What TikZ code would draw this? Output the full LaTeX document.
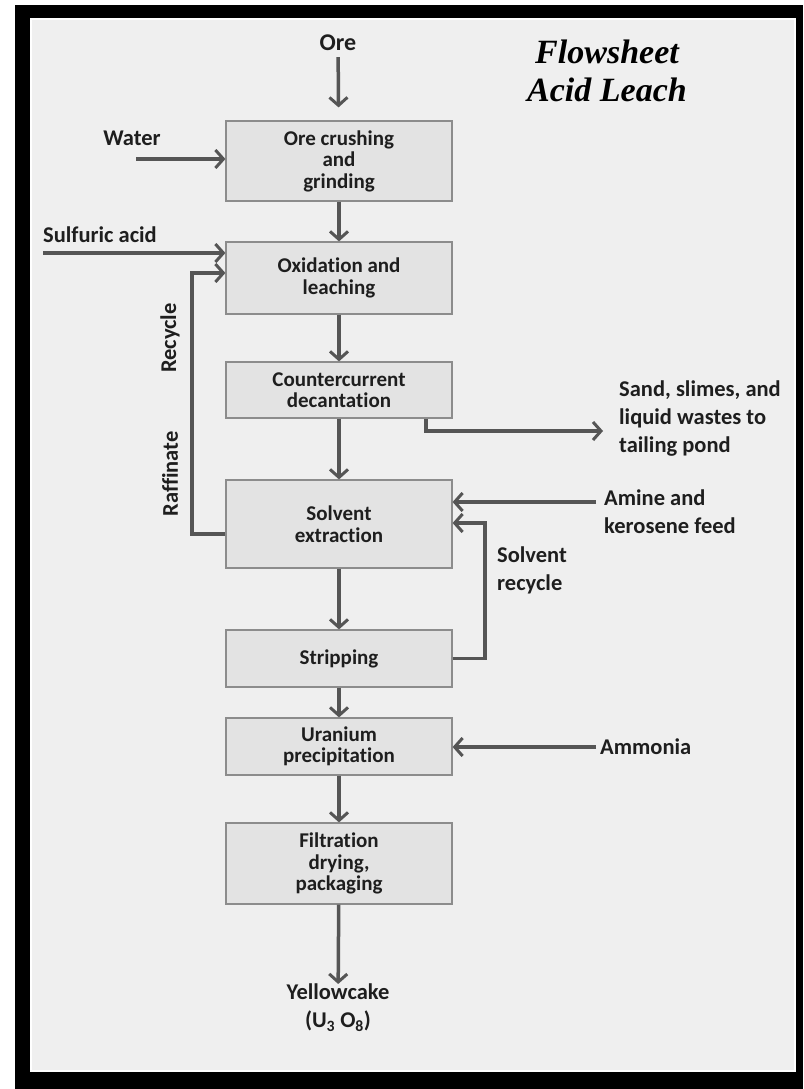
\documentclass[tikz,border=0pt]{standalone}
\usepackage{fontspec}
\setmainfont[Ligatures=NoCommon]{Carlito}
\newfontfamily\titlefont{Liberation Serif}
\usetikzlibrary{arrows.meta}
\definecolor{bgc}{HTML}{EFEFEF}
\definecolor{boxfill}{HTML}{E3E3E3}
\definecolor{boxline}{HTML}{8C8C8C}
\definecolor{arr}{HTML}{555555}
\definecolor{txt}{HTML}{1E1E1E}
\begin{document}
\begin{tikzpicture}[x=1pt,y=-1pt,
  proc/.style={draw=boxline, fill=boxfill, line width=1.2pt, minimum width=226pt, inner sep=0pt, align=center, font=\fontsize{21}{21.5}\selectfont\bfseries, text=txt},
  lbl/.style={font=\fontsize{22.5}{28}\selectfont\bfseries, text=txt, inner sep=0pt},
  flow/.style={draw=arr, line width=3.5pt, -{Straight Barb[length=8pt,width=18pt,line width=3pt]}},
  titlestyle/.style={font=\titlefont\bfseries\itshape\fontsize{34}{38}\selectfont, align=center, inner sep=0pt}]
\useasboundingbox (0,0) rectangle (803,1089);
\fill[white] (0,0) rectangle (803,1089);
\fill[black] (15,5) rectangle (803,1089);
\fill[bgc] (30,18) rectangle (796,1072);
\draw[white, line width=1.5pt] (31,19) rectangle (795,1071);

% process boxes
\node[proc, minimum height=80pt] (crush) at (339,161) {Ore crushing\\and\\grinding};
\node[proc, minimum height=72pt] (leach) at (339,278) {Oxidation and\\leaching};
\node[proc, minimum height=56pt] (ccd) at (339,390) {Countercurrent\\decantation};
\node[proc, minimum height=88pt] (sx) at (339,524) {Solvent\\extraction};
\node[proc, minimum height=57pt] (strip) at (339,658.5) {Stripping};
\node[proc, minimum height=57pt] (precip) at (339,746.5) {Uranium\\precipitation};
\node[proc, minimum height=81pt] (filt) at (339,863.5) {Filtration\\drying,\\packaging};

% labels
\node[lbl, font=\fontsize{24}{28}\selectfont\bfseries] (ore) at (338,43) {Ore};
\node[lbl] (water) at (132,138) {Water};
\node[lbl, anchor=west] (acid) at (43,235) {Sulfuric acid};
\node[lbl, anchor=west, align=left] (waste) at (619,419) {Sand, slimes, and\\liquid wastes to\\tailing pond};
\node[lbl, anchor=west, align=left] (amine) at (604,512) {Amine and\\kerosene feed};
\node[lbl, anchor=west, align=left] (solrec) at (497,570) {Solvent\\recycle};
\node[lbl, anchor=west] (ammonia) at (600,747) {Ammonia};
\node[lbl, align=center] (yc) at (338,1008) {Yellowcake\\(U\textsubscript{3} O\textsubscript{8})};
\node[lbl, rotate=90] (recyc) at (170,338) {Recycle};
\node[lbl, rotate=90] (raff) at (170,474) {Raffinate};
\node[titlestyle] (title) at (607,71) {Flowsheet\\Acid Leach};

% coordinates
\coordinate (wS) at (136,159);
\coordinate (aS) at (43,253);
\coordinate (rB) at (192,534);
\coordinate (rT) at (192,273);
\coordinate (wsA) at (426,431);
\coordinate (amS) at (596,502);
\coordinate (srC) at (485,523);

% main flow
\draw[flow, shorten <=6pt, shorten >=13pt] (ore) -- (crush);
\draw[flow] (crush) -- (leach);
\draw[flow] (leach) -- (ccd);
\draw[flow] (ccd) -- (sx);
\draw[flow] (sx) -- (strip);
\draw[flow] (strip) -- (precip);
\draw[flow] (precip) -- (filt);
\draw[flow] (filt) -- (yc);

% side flows
\draw[flow] (wS) -- (wS -| crush.west);
\draw[flow] (aS) -- (aS -| leach.west);
\draw[flow] (rB -| sx.west) -- (rB) -- (rT) -- (rT -| leach.west);
\draw[flow, shorten >=16pt] (wsA |- ccd.south) -- (wsA) -- (wsA -| waste.west);
\draw[flow] (amS) -- (amS -| sx.east);
\draw[flow] (strip.east) -- (strip.east -| srC) -- (srC) -- (srC -| sx.east);
\draw[flow, shorten <=4pt] (ammonia.west) -- (ammonia.west -| precip.east);
\end{tikzpicture}
\end{document}
